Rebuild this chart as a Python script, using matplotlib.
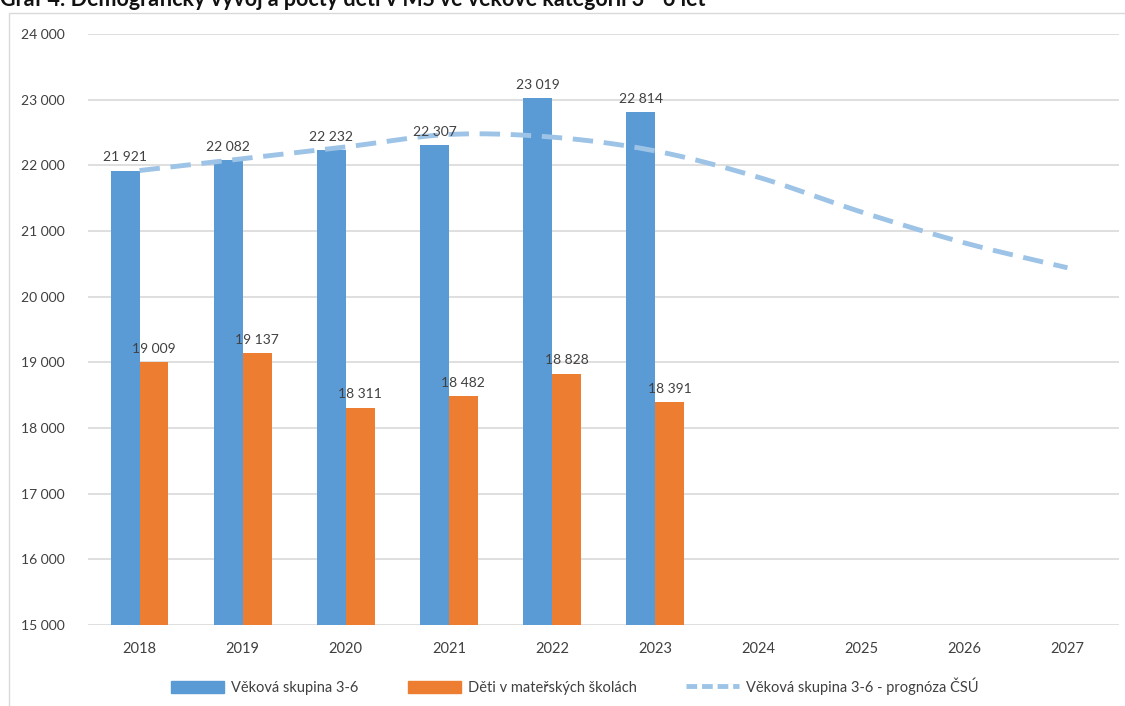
import numpy as np
import matplotlib
matplotlib.use("Agg")
import matplotlib.pyplot as plt
from matplotlib.lines import Line2D
from matplotlib.patches import Patch, Rectangle

years = ["2018", "2019", "2020", "2021", "2022", "2023", "2024", "2025", "2026", "2027"]
vekova_skupina = [21921, 22082, 22232, 22307, 23019, 22814]
deti_ms = [19009, 19137, 18311, 18482, 18828, 18391]
prognoza = [21921, 22100, 22280, 22470, 22430, 22220, 21820, 21290, 20820, 20440]

BLUE = "#5B9BD5"
ORANGE = "#ED7D31"
LIGHT = "#9DC3E6"
TXT = "#404040"

plt.rcParams["font.family"] = ["Lato", "DejaVu Sans"]


def fmt(v):
    return f"{v:,}".replace(",", " ")


def smooth(xs, ys, n=20):
    # catmull-rom just for drawing the curve like excel's smoothed line
    xs = np.asarray(xs, float)
    ys = np.asarray(ys, float)
    px = np.concatenate([[2 * xs[0] - xs[1]], xs, [2 * xs[-1] - xs[-2]]])
    py = np.concatenate([[2 * ys[0] - ys[1]], ys, [2 * ys[-1] - ys[-2]]])
    ox, oy = [], []
    for i in range(1, len(px) - 2):
        t = np.linspace(0, 1, n, endpoint=False)
        for arr, out in ((px, ox), (py, oy)):
            p0, p1, p2, p3 = arr[i - 1], arr[i], arr[i + 1], arr[i + 2]
            out.extend(0.5 * ((2 * p1) + (-p0 + p2) * t
                              + (2 * p0 - 5 * p1 + 4 * p2 - p3) * t ** 2
                              + (-p0 + 3 * p1 - 3 * p2 + p3) * t ** 3))
    ox.append(xs[-1])
    oy.append(ys[-1])
    return np.array(ox), np.array(oy)


fig = plt.figure(figsize=(11.25, 7.06), dpi=100)
ax = fig.add_axes([88 / 1125, 1 - 625 / 706, (1119 - 88) / 1125, (625 - 34) / 706])

# chart frame (left + top visible)
fig.patches.append(Rectangle((9 / 1125, -0.05), 1.2, 1 - 13 / 706 + 0.05,
                             transform=fig.transFigure, fill=False,
                             edgecolor="#D9D9D9", lw=1.0))

x = np.arange(len(years))
w = 0.28
xb = x[:len(vekova_skupina)]
ax.bar(xb - w / 2, vekova_skupina, w, color=BLUE, zorder=3)
ax.bar(xb + w / 2, deti_ms, w, color=ORANGE, zorder=3)

for xi, v in zip(xb - w / 2, vekova_skupina):
    ax.text(xi, v + 110, fmt(v), ha="center", va="bottom", fontsize=10, color=TXT, zorder=5)
for xi, v in zip(xb + w / 2, deti_ms):
    ax.text(xi, v + 110, fmt(v), ha="center", va="bottom", fontsize=10, color=TXT, zorder=5)

sx, sy = smooth(x, prognoza)
ax.plot(sx, sy, color=LIGHT, lw=3.5, dashes=(4.2, 2.2), zorder=4)

ax.set_xlim(-0.5, len(years) - 0.5)
ax.set_ylim(15000, 24000)
ax.set_yticks(np.arange(15000, 24001, 1000))
ax.set_yticklabels([fmt(v) for v in range(15000, 24001, 1000)], fontsize=10, color=TXT)
ax.set_xticks(x)
ax.set_xticklabels(years, fontsize=10.5, color=TXT)
ax.tick_params(axis="both", length=0)
ax.tick_params(axis="y", pad=17)
ax.tick_params(axis="x", pad=12)
ax.grid(axis="y", color="#D9D9D9", lw=1.2, zorder=0)
for s in ax.spines.values():
    s.set_visible(False)

handles = [Patch(color=BLUE), Patch(color=ORANGE),
           Line2D([0], [0], color=LIGHT, lw=3.5, dashes=(2.2, 1.0))]
labels = ["Věková skupina 3-6", "Děti v mateřských školách", "Věková skupina 3-6 - prognóza ČSÚ"]
fig.legend(handles, labels, loc="center", bbox_to_anchor=(575 / 1125, 1 - 686 / 706),
           ncol=3, frameon=False, fontsize=10.5, handlelength=3.6, handleheight=0.9,
           columnspacing=3.4, handletextpad=0.5, labelcolor=TXT)

fig.text(0.0, 1 - 6 / 706, "Graf 4: Demografický vývoj a počty dětí v MŠ ve věkové kategorii 3 - 6 let",
         ha="left", va="baseline", fontsize=15.5, fontweight="bold", color="#111111")

fig.savefig("out.png", dpi=100)
